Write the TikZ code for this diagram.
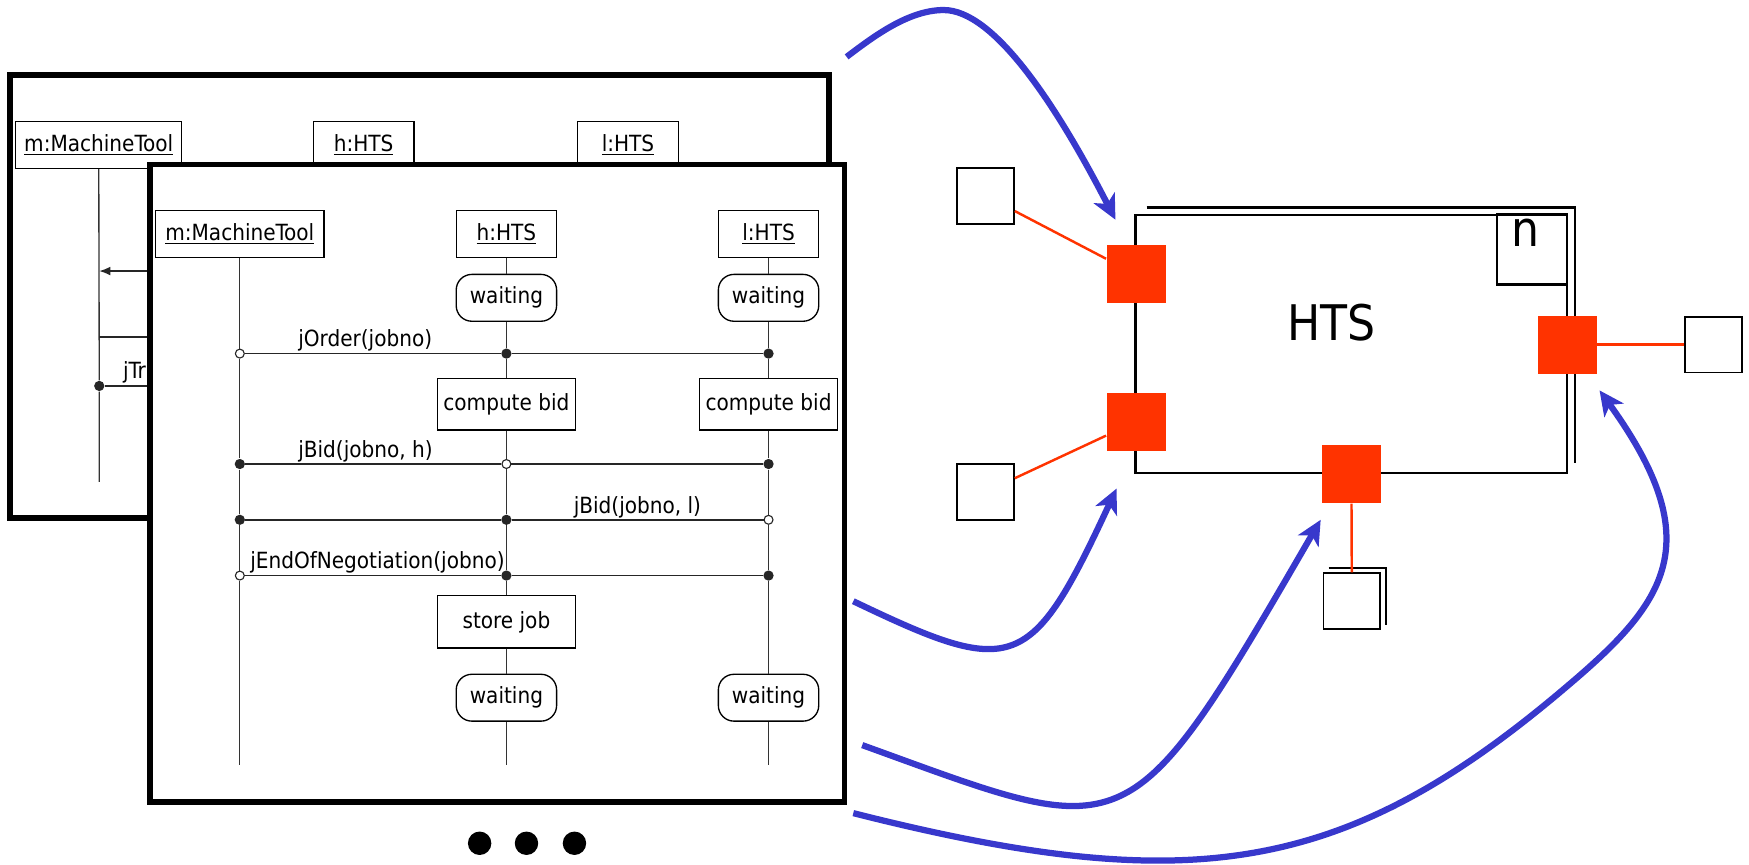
\documentclass[tikz,border=0pt]{standalone}
\usepackage{fontspec}
\setmainfont{DejaVu Sans Condensed}
\usepackage{tikz}
\usetikzlibrary{positioning,arrows.meta}
\definecolor{portred}{RGB}{255,51,0}
\definecolor{flowblue}{RGB}{56,56,204}

\begin{document}
\begin{tikzpicture}[
  x=0.5pt, y=-0.5pt,
  frame/.style={draw, line width=2.5pt, fill=white, inner sep=0pt},
  obj/.style={draw, line width=0.6pt, fill=white, minimum height=21pt, inner sep=1pt},
  state/.style={draw, line width=0.6pt, fill=white, rounded corners=7pt, minimum width=45pt, minimum height=21pt, inner sep=1pt},
  act/.style={draw, line width=0.6pt, fill=white, minimum width=62pt, minimum height=23pt, inner sep=1pt},
  life/.style={draw=black!80, line width=0.6pt},
  msg/.style={draw=black!85, line width=0.7pt},
  fdot/.style={circle, fill=black!85, inner sep=0pt, minimum size=4.6pt},
  odot/.style={circle, draw=black!85, line width=0.5pt, fill=white, inner sep=0pt, minimum size=4pt},
  lbl/.style={anchor=base west, inner sep=0pt},
  port/.style={fill=portred, inner sep=0pt, minimum width=26.5pt, minimum height=26pt},
  pin/.style={draw, line width=0.8pt, fill=white, inner sep=0pt, minimum width=25.5pt, minimum height=25pt},
  wire/.style={draw=portred, line width=1.1pt},
  flow/.style={draw=flowblue, line width=2.8pt, -{Stealth[length=11pt, width=10.5pt, inset=3pt]}},
  big/.style={font=\fontsize{22}{26}\selectfont},
]
\useasboundingbox (0,0) rectangle (1568,775);

% sequence diagram behind
\node[frame, minimum width=367pt, minimum height=198.75pt] (back) at (376,265.75) {};
\node[obj, minimum width=74.5pt] (bm) at (88.5,130) {\underline{m:MachineTool}};
\node[obj, minimum width=45pt] (bh) at (326,130) {\underline{h:HTS}};
\node[obj, minimum width=45pt] (bl) at (563,130) {\underline{l:HTS}};
\node[fdot] (bd) at (89,346) {};
\coordinate (bend) at (89,432);
\coordinate (bin) at (134,243);
\coordinate (bm2) at (89,243);
\coordinate (bm3) at (89,302);
\coordinate (bout1) at (134,302);
\coordinate (bout2) at (134,346);
\draw[life] (bm) -- (bd) -- (bend);
\draw[msg, -{Latex[length=5pt, width=4pt]}] (bin) -- (bm2);
\draw[msg] (bm3) -- (bout1);
\draw[msg] (bd) -- (bout2);
\node[lbl] (btr) at (110,339) {jTr};

% sequence diagram in front
\node[frame, minimum width=311.25pt, minimum height=285.75pt] (front) at (445.75,433.25) {};
\node[obj, minimum width=75.5pt] (mt) at (215,210) {\underline{m:MachineTool}};
\node[obj, minimum width=45pt] (ht) at (454,210) {\underline{h:HTS}};
\node[obj, minimum width=45pt] (lt) at (689,210) {\underline{l:HTS}};
\node[state] (hw1) at (454,267) {waiting};
\node[state] (lw1) at (689,267) {waiting};
\node[act] (hc) at (454,362.5) {compute bid};
\node[act] (lc) at (689,362.5) {compute bid};
\node[act, minimum height=23.5pt] (hs) at (454,557.5) {store job};
\node[state] (hw2) at (454,625.5) {waiting};
\node[state] (lw2) at (689,625.5) {waiting};
\coordinate (mend) at (215,686);
\coordinate (hend) at (454,686);
\coordinate (lend) at (689,686);

\node[odot] (m1) at (215,317) {};
\node[fdot] (h1) at (454,317) {};
\node[fdot] (l1) at (689,317) {};
\node[fdot] (m2) at (215,416) {};
\node[odot] (h2) at (454,416) {};
\node[fdot] (l2) at (689,416) {};
\node[fdot] (m3) at (215,466) {};
\node[fdot] (h3) at (454,466) {};
\node[odot] (l3) at (689,466) {};
\node[odot] (m4) at (215,516) {};
\node[fdot] (h4) at (454,516) {};
\node[fdot] (l4) at (689,516) {};

\draw[life] (mt) -- (m1) -- (m2) -- (m3) -- (m4) -- (mend);
\draw[life] (ht) -- (hw1) -- (h1) -- (hc) -- (h2) -- (h3) -- (h4) -- (hs) -- (hw2) -- (hend);
\draw[life] (lt) -- (lw1) -- (l1) -- (lc) -- (l2) -- (l3) -- (l4) -- (lw2) -- (lend);
\draw[msg] (m1) -- (h1) -- (l1);
\draw[msg] (m2) -- (h2) -- (l2);
\draw[msg] (m3) -- (h3) -- (l3);
\draw[msg] (m4) -- (h4) -- (l4);
\node[lbl] (ordlbl) at (267,311) {jOrder(jobno)};
\node[lbl] (bidhlbl) at (267,410) {jBid(jobno, h)};
\node[lbl] (bidllbl) at (514,460) {jBid(jobno, l)};
\node[lbl] (endlbl) at (224,510) {jEndOfNegotiation(jobno)};

\foreach \x/\n in {430/1,472/2,515/3}
  \node[circle, fill=black, inner sep=0pt, minimum size=10.5pt] (more\n) at (\x,756) {};

% HTS part
\draw[line width=1pt] (1028,186) -| (1412,415);
\node[draw, line width=1pt, fill=white, inner sep=0pt, minimum width=193.5pt, minimum height=115.75pt] (hts) at (1211.5,308.5) {};
\node[draw, line width=1pt, inner sep=0pt, minimum size=31.5pt] (nbox) at (1373.5,223.5) {};
\node[big, anchor=base, inner sep=0pt] (ntxt) at (1368,221) {n};
\node[big, anchor=base, inner sep=0pt] (htstxt) at (1193.5,305) {HTS};

\node[port] (pa) at (1018.5,246) {};
\node[port] (pb) at (1018.5,378) {};
\node[port] (pc) at (1211.5,425) {};
\node[port] (pd) at (1405,309) {};

\node[pin] (qa) at (883.5,175.5) {};
\node[pin] (qb) at (883.5,441) {};
\draw[line width=0.8pt] (1191,509) -| (1242.5,560);
\node[pin] (qc) at (1212,539) {};
\node[pin] (qd) at (1536,309) {};

\draw[wire] (qa) -- (pa);
\draw[wire] (qb) -- (pb);
\draw[wire] (pc) -- (qc);
\draw[wire] (pd) -- (qd);

% blue arrows
\coordinate (fa0) at (759,51);
\coordinate (fa1) at (1000,197);
\coordinate (fb0) at (765,539);
\coordinate (fb1) at (1001,438);
\coordinate (fc0) at (773,668);
\coordinate (fc1) at (1184,466);
\coordinate (fd0) at (765,729);
\coordinate (fd1) at (1434,350);
\draw[flow] (fa0) .. controls (784,32) and (815,9) .. (846,9) .. controls (890,9) and (945,90) .. (fa1);
\draw[flow] (fb0) .. controls (909,608) and (924,604) .. (fb1);
\draw[flow] (fc0) .. controls (1014,755) and (1009,768) .. (fc1);
\draw[flow] (fd0) .. controls (1066,805) and (1204,786) .. (1404,616) .. controls (1494,540) and (1533,487) .. (fd1);
\end{tikzpicture}
\end{document}
